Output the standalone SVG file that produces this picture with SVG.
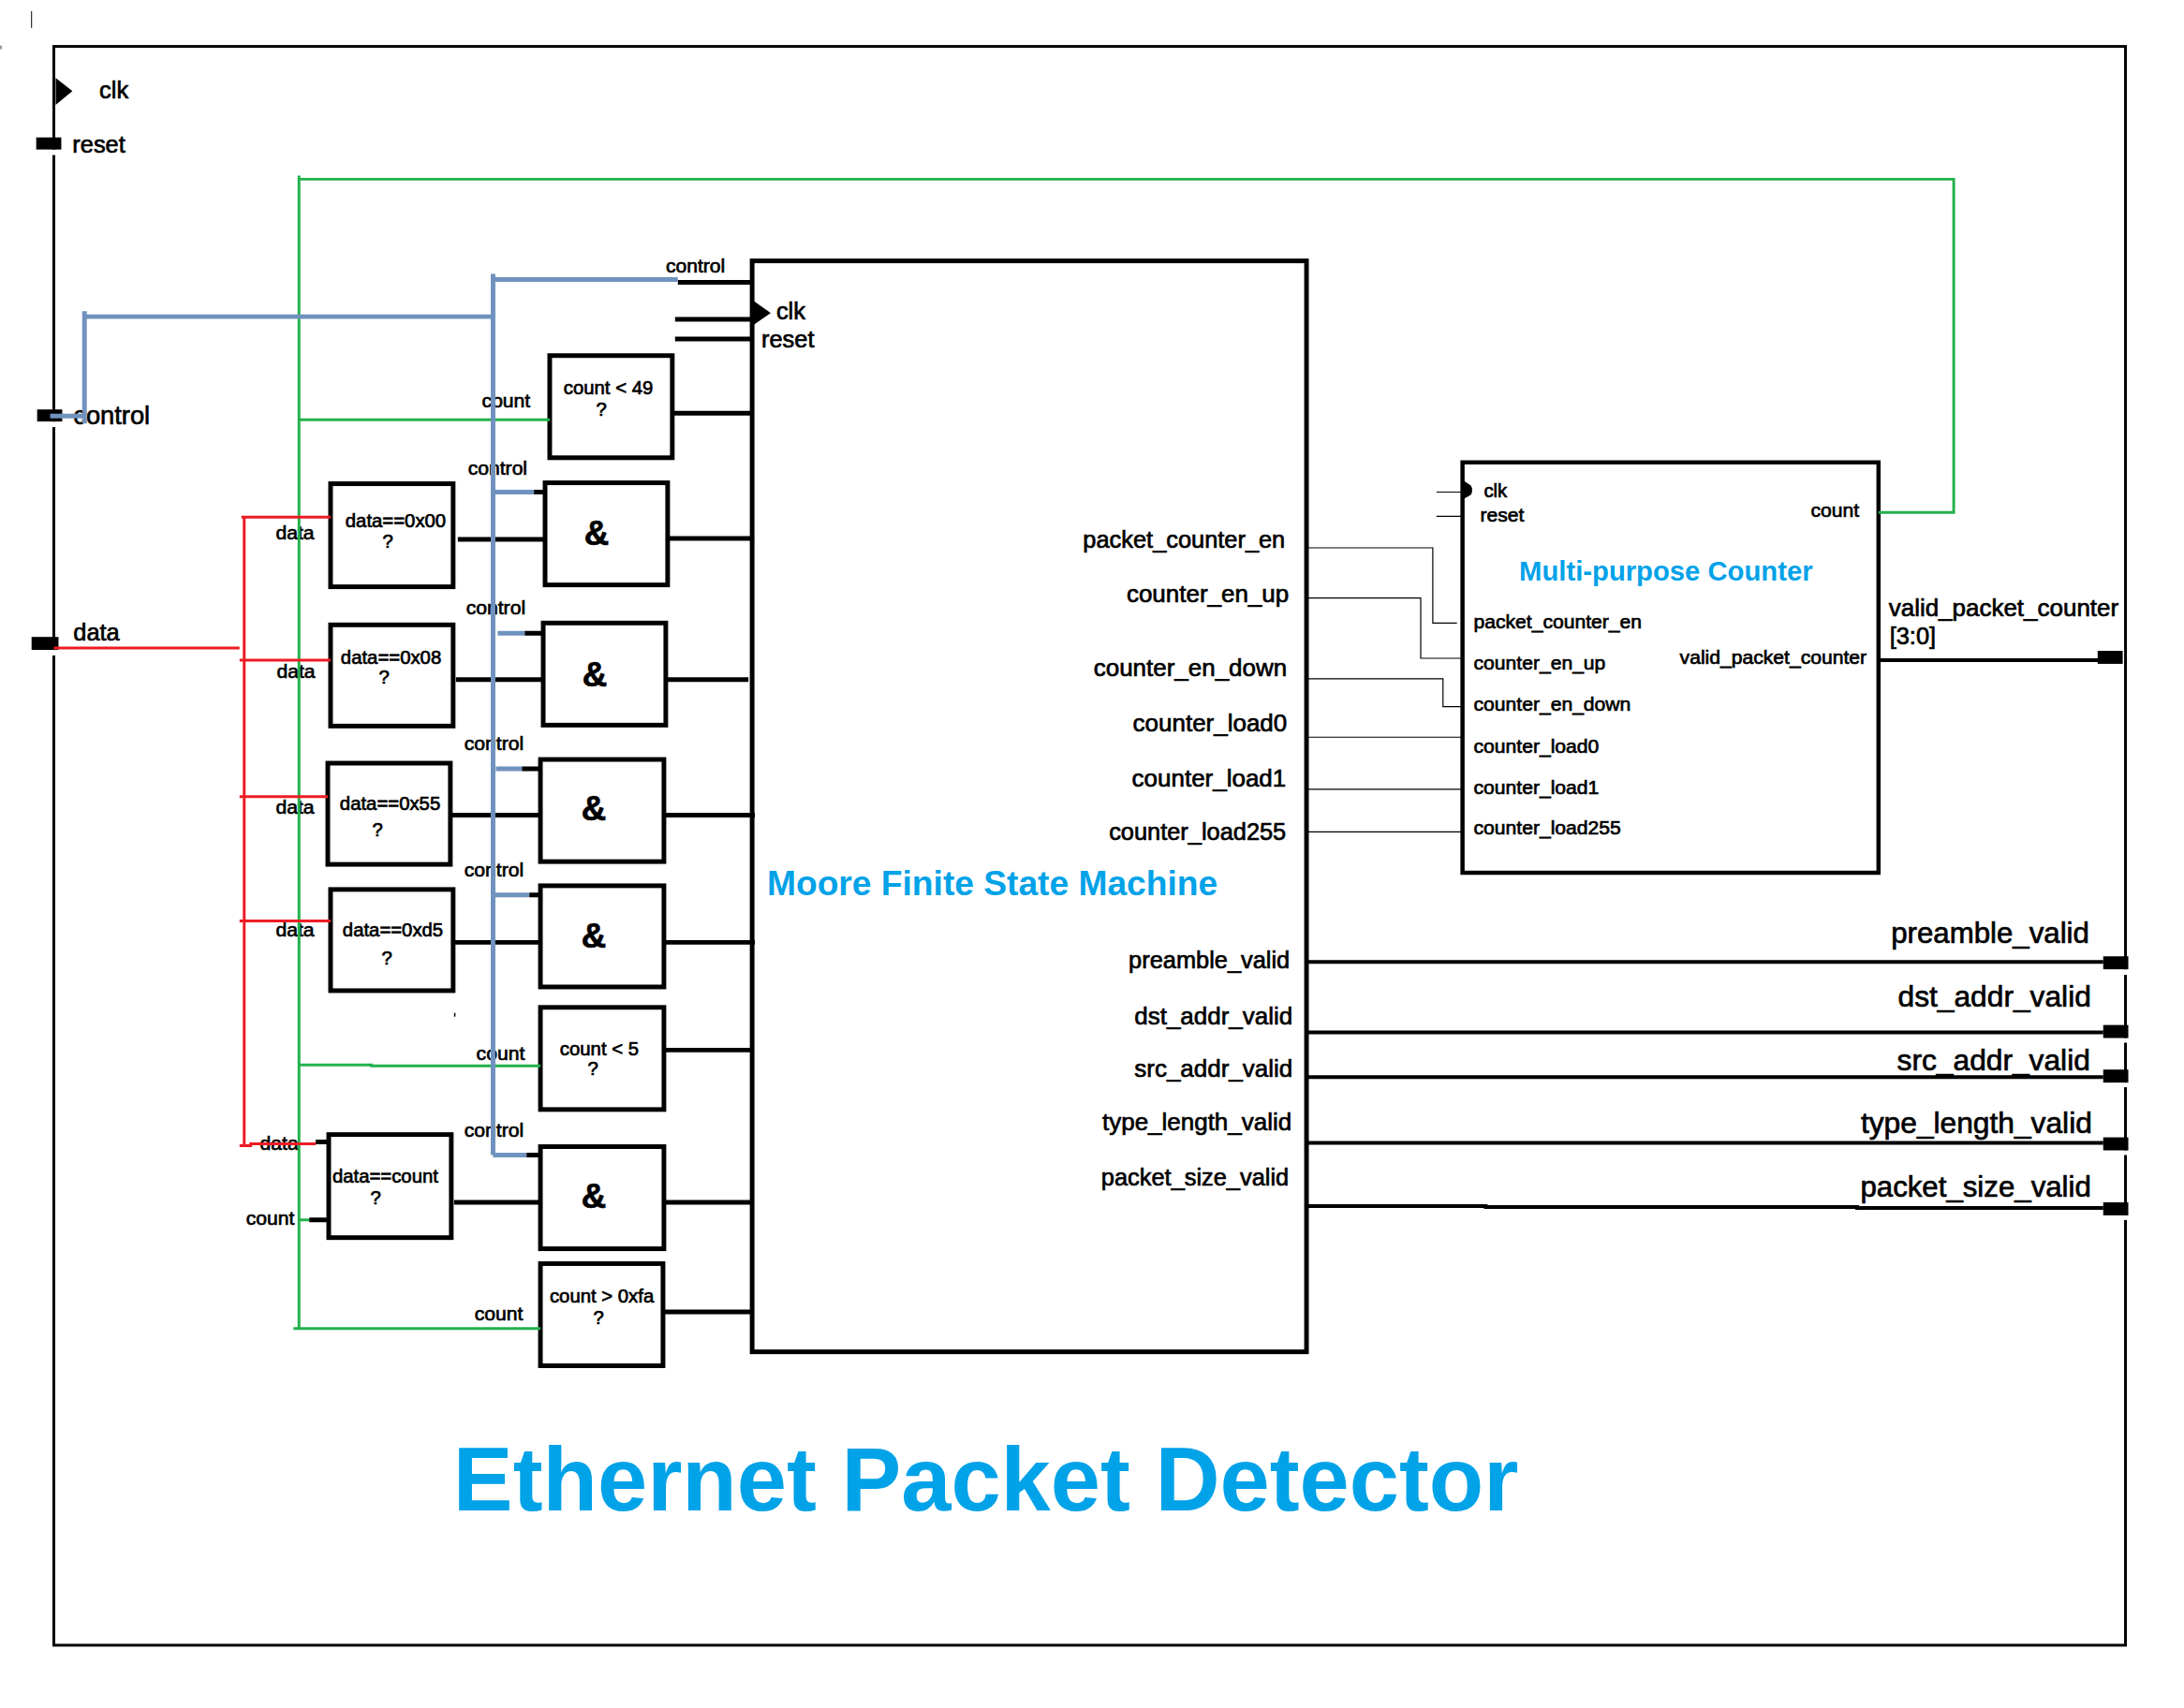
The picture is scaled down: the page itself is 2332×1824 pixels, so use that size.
<svg xmlns="http://www.w3.org/2000/svg" width="2332" height="1824" viewBox="0 0 2332 1824">
<style>
text{font-family:"Liberation Sans",Arial,sans-serif;fill:#000;stroke:#000;stroke-width:.7}
.s{font-size:20.5px}.w{font-size:21.3px}.m{font-size:25.6px}.m2{font-size:26.2px}.l{font-size:31.5px}.l2{font-size:32px}
.e{text-anchor:end}
.amp{font-size:37px;font-weight:bold}
.c{fill:#00a2e8;stroke:none;font-weight:bold}
.box{fill:none;stroke:#000;stroke-width:5}
.k{fill:none;stroke:#000;stroke-width:5}
.o{fill:none;stroke:#000;stroke-width:4}
.f{fill:none;stroke:#000;stroke-width:1.2}
.g{fill:none;stroke:#22b14c;stroke-width:3}
.r{fill:none;stroke:#ed1c24;stroke-width:3}
.b{fill:none;stroke:#7092be;stroke-width:5}
</style>
<g id="diagram" transform="translate(0 1) scale(.9915)">
<g id="frame">
<rect x="58" y="49" width="2231" height="1722" fill="none" stroke="#000" stroke-width="3"/>
<rect x="54" y="160" width="8" height="6" fill="#fff"/>
<rect x="54" y="453" width="8" height="6" fill="#fff"/>
<rect x="54" y="699" width="8" height="6" fill="#fff"/>
<rect x="2285" y="1043" width="8" height="6" fill="#fff"/>
<rect x="2285" y="1117" width="8" height="5" fill="#fff"/>
<rect x="2285" y="1165" width="8" height="5" fill="#fff"/>
<rect x="2285" y="1238" width="8" height="5" fill="#fff"/>
<rect x="2285" y="1308" width="8" height="5" fill="#fff"/>
<rect x="33.500" y="11" width="1" height="18" fill="#000"/>
<rect x="0" y="48" width="2" height="4" fill="#999"/>
<rect x="489" y="1090" width="1.500" height="4" fill="#000"/>
</g>
<g id="port-clk"><path d="M60 83L78 97L60 112Z" fill="#000"/><text class="m" x="107" y="105">clk</text></g>
<g id="port-reset"><rect x="39" y="147" width="27" height="13" fill="#000"/><text class="m" x="78" y="163">reset</text></g>
<g id="port-control"><rect x="40" y="440" width="27" height="13" fill="#000"/><text x="79" y="456" font-size="27.500">control</text></g>
<g id="port-data"><rect x="34" y="685" width="29" height="14" fill="#000"/><text class="m" x="79" y="689">data</text></g>
<g id="port-valid-packet-counter"><rect x="2259" y="700" width="27" height="14" fill="#000"/><text class="m2" x="2034" y="663">valid_packet_counter</text><text class="m" x="2035" y="693">[3:0]</text></g>
<g id="port-preamble-valid"><rect x="2265" y="1029" width="27" height="14" fill="#000"/><text class="l e" x="2250" y="1015">preamble_valid</text></g>
<g id="port-dst-addr-valid"><rect x="2265" y="1103" width="27" height="14" fill="#000"/><text class="l2 e" x="2252" y="1083">dst_addr_valid</text></g>
<g id="port-src-addr-valid"><rect x="2265" y="1151" width="27" height="14" fill="#000"/><text class="l2 e" x="2251" y="1152">src_addr_valid</text></g>
<g id="port-type-length-valid"><rect x="2265" y="1224" width="27" height="14" fill="#000"/><text class="l2 e" x="2253" y="1219">type_length_valid</text></g>
<g id="port-packet-size-valid"><rect x="2265" y="1294" width="27" height="14" fill="#000"/><text class="l e" x="2252" y="1288">packet_size_valid</text></g>

<g id="fsm">
<rect class="box" x="810" y="280" width="597" height="1175"/>
<path d="M810 322L830 336L810 350Z" fill="#000"/>
<text class="m" x="836" y="343">clk</text><text class="m" x="820" y="373">reset</text>
<text class="m e" x="1384" y="589">packet_counter_en</text>
<text class="m2 e" x="1388" y="648">counter_en_up</text>
<text class="m2 e" x="1386" y="727">counter_en_down</text>
<text class="m2 e" x="1386" y="787">counter_load0</text>
<text class="m2 e" x="1385" y="846">counter_load1</text>
<text class="m e" x="1385" y="904">counter_load255</text>
<text class="m e" x="1389" y="1042">preamble_valid</text>
<text class="m2 e" x="1392" y="1102">dst_addr_valid</text>
<text class="m2 e" x="1392" y="1159">src_addr_valid</text>
<text class="m2 e" x="1391" y="1216">type_length_valid</text>
<text class="m e" x="1388" y="1276">packet_size_valid</text>
<text class="c" x="826" y="963" font-size="37.500">Moore Finite State Machine</text>
</g>
<g id="counter">
<rect x="1575" y="497" width="448" height="442" fill="none" stroke="#000" stroke-width="4.500"/>
<path d="M1575 516L1584 522Q1587 527 1584 532L1575 537Z" fill="#000"/>
<text class="s" x="1598" y="535">clk</text><text class="w" x="1594" y="561">reset</text><text class="w" x="1950" y="556">count</text>
<text class="c" x="1636" y="624" font-size="29.500">Multi-purpose Counter</text>
<text class="w" x="1587" y="676">packet_counter_en</text>
<text class="w" x="1587" y="720">counter_en_up</text>
<text class="w" x="1587" y="765">counter_en_down</text>
<text class="w" x="1587" y="810">counter_load0</text>
<text class="w" x="1587" y="854">counter_load1</text>
<text class="w" x="1587" y="898">counter_load255</text>
<text class="w" x="1809" y="714">valid_packet_counter</text>
</g>
<g id="cmp-count-lt-49"><rect class="box" x="592" y="382" width="132" height="110"/><text class="s" x="607" y="424">count &lt; 49</text><text class="s" x="642" y="447">?</text></g>
<g id="cmp-data-00"><rect class="box" x="356" y="520" width="132" height="111"/><text class="s" x="372" y="567">data==0x00</text><text class="s" x="412" y="589">?</text></g>
<g id="and-1"><rect class="box" x="587" y="519" width="132" height="110"/><text class="amp" x="629" y="586">&amp;</text></g>
<g id="cmp-data-08"><rect class="box" x="356" y="672" width="132" height="109"/><text class="s" x="367" y="714">data==0x08</text><text class="s" x="408" y="735">?</text></g>
<g id="and-2"><rect class="box" x="585" y="670" width="132" height="110"/><text class="amp" x="627" y="738">&amp;</text></g>
<g id="cmp-data-55"><rect class="box" x="353" y="821" width="132" height="109"/><text class="s" x="366" y="871">data==0x55</text><text class="s" x="401" y="900">?</text></g>
<g id="and-3"><rect class="box" x="582" y="817" width="133" height="110"/><text class="amp" x="626" y="883">&amp;</text></g>
<g id="cmp-data-d5"><rect class="box" x="356" y="957" width="132" height="109"/><text class="s" x="369" y="1008">data==0xd5</text><text class="s" x="411" y="1038">?</text></g>
<g id="and-4"><rect class="box" x="582" y="953" width="133" height="109"/><text class="amp" x="626" y="1020">&amp;</text></g>
<g id="cmp-count-lt-5"><rect class="box" x="582" y="1084" width="133" height="110"/><text class="s" x="603" y="1136">count &lt; 5</text><text class="s" x="633" y="1157">?</text></g>
<g id="cmp-data-count"><rect class="box" x="354" y="1221" width="132" height="111"/><text class="s" x="358" y="1273">data==count</text><text class="s" x="399" y="1296">?</text></g>
<g id="and-5"><rect class="box" x="582" y="1234" width="133" height="110"/><text class="amp" x="626" y="1300">&amp;</text></g>
<g id="cmp-count-gt-fa"><rect class="box" x="582" y="1360" width="132" height="110"/><text class="s" x="592" y="1402">count &gt; 0xfa</text><text class="s" x="639" y="1425">?</text></g>

<g id="wire-labels">
<text class="w" x="717" y="292">control</text>
<text class="w" x="519" y="438">count</text>
<text class="w" x="504" y="510">control</text>
<text class="w" x="502" y="661">control</text>
<text class="w" x="500" y="807">control</text>
<text class="w" x="500" y="943">control</text>
<text class="w" x="513" y="1141">count</text>
<text class="w" x="500" y="1223">control</text>
<text class="w" x="511" y="1421">count</text>
<text class="w" x="297" y="580">data</text>
<text class="w" x="298" y="729">data</text>
<text class="w" x="297" y="875">data</text>
<text class="w" x="297" y="1008">data</text>
<text class="w" x="280" y="1238">data</text>
<text class="w" x="265" y="1318">count</text>
</g>

<g id="connectors">
<path class="k" d="M730 303H810M727 343H810M727 364H810"/>
<path class="k" d="M724 444H810M493 580H587M719 579H812M491 731H585M717 731H806M485 877H582M715 877H813M490 1014H582M715 1014H813M715 1130H810M489 1294H582M715 1294H810M714 1412H810"/>
<path class="k" d="M575 529H587M565 681H585M562 827H582M570 963H582M567 1243H582M340 1229H354M333 1313H354"/>
<path class="o" d="M2023 710H2262M1407 1035H2265M1407 1111H2265M1407 1159H2265M1407 1230H2265M1407 1298H1600V1299H2000V1300H2265"/>
<path class="f" d="M1407 589H1543V670H1569M1407 643H1530V708H1575M1407 730H1554V760H1575M1407 793H1575M1407 849H1575M1407 895H1575M1547 529H1575M1547 555H1575"/>
<path class="g" d="M322 1431V188M322 192H2104V551H2023M322 451H592M322 1146H400V1147H582M316 1430H582M322 1313H333"/>
<path class="r" d="M58 697H258M263 555V1233M260 556H356M258 710H356M258 857H353M258 991H356M258 1233H270V1231H340"/>
<path class="b" d="M54 447H91M91 334V455M91 340H531M531 294V1243M531 300H730M531 529H575M536 681H565M534 827H562M531 963H570M531 1243H567"/>
</g>
<g id="title"><text class="c" x="488" y="1626" font-size="96.500">Ethernet Packet Detector</text></g>
</g>
</svg>
